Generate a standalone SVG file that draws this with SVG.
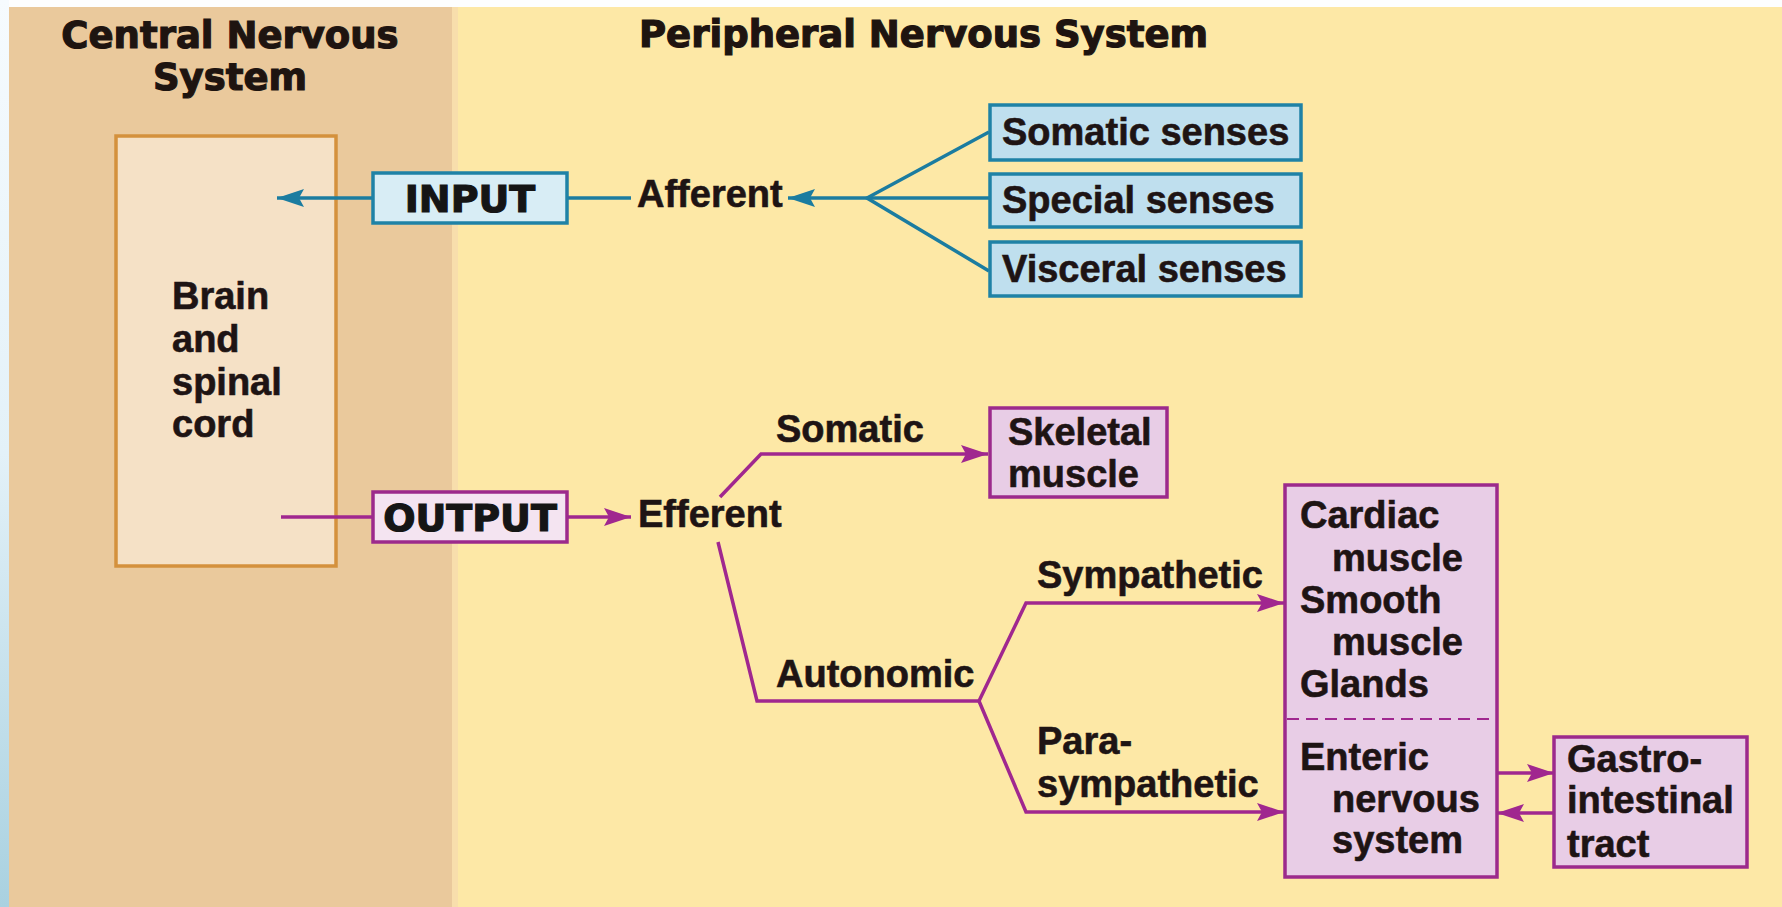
<svg xmlns="http://www.w3.org/2000/svg" width="1782" height="907" viewBox="0 0 1782 907">
<defs>
<linearGradient id="edge" x1="0" y1="0" x2="0" y2="1">
<stop offset="0" stop-color="#f6fbfe"/>
<stop offset="0.5" stop-color="#e3f1f8"/>
<stop offset="1" stop-color="#a9d1e0"/>
</linearGradient>
<marker id="arT" markerUnits="userSpaceOnUse" markerWidth="30" markerHeight="20" refX="27" refY="9" orient="auto">
<path d="M27,9 L0,0 L5,9 L0,18 z" fill="#1b7ca0"/>
</marker>
<marker id="arM" markerUnits="userSpaceOnUse" markerWidth="30" markerHeight="20" refX="27" refY="9" orient="auto">
<path d="M27,9 L0,0 L5,9 L0,18 z" fill="#a0278f"/>
</marker>
</defs>
<style>
.t{font-family:"Liberation Sans",Arial,sans-serif;font-weight:bold;font-size:38px;fill:#1e1414;stroke:#1e1414;stroke-width:0.6}
.h{font-family:"DejaVu Sans","Liberation Sans",sans-serif;font-weight:bold;font-size:37px;fill:#1e1410;stroke:#1e1410;stroke-width:1.2}
.io{font-family:"DejaVu Sans","Liberation Sans",sans-serif;font-weight:bold;font-size:38px;fill:#151515;stroke:#151515;stroke-width:1.2}
.teal{fill:none;stroke:#1b7ca0;stroke-width:3.5}
.mag{fill:none;stroke:#a0278f;stroke-width:3.5}
.sense{fill:#bfdfee;stroke:#1f82a6;stroke-width:3.5}
.pbox{fill:#e8cde6;stroke:#9c2a8c;stroke-width:3.5}
</style>
<!-- background -->
<rect x="0" y="0" width="1782" height="907" fill="#fde8a6"/>
<rect x="9" y="7" width="443" height="900" fill="#eac99c"/>
<rect x="452" y="7" width="6" height="900" fill="#f8deac"/>
<rect x="0" y="0" width="1782" height="7" fill="#fdfeff"/>
<rect x="0" y="0" width="9" height="907" fill="url(#edge)"/>

<g id="titles">
<text class="h" x="230" y="48" text-anchor="middle">Central Nervous</text>
<text class="h" x="230" y="90" text-anchor="middle">System</text>
<text class="h" x="639" y="47">Peripheral Nervous System</text>
</g>

<g id="cns">
<rect x="116" y="136" width="220" height="430" fill="#f5e1c6" stroke="#d4913d" stroke-width="3.5"/>
<text class="t" x="172" y="309">Brain</text>
<text class="t" x="172" y="352">and</text>
<text class="t" x="172" y="395">spinal</text>
<text class="t" x="172" y="437">cord</text>
</g>

<g id="connectors">
<path class="teal" d="M373,198 L277,198" marker-end="url(#arT)"/>
<path class="teal" d="M567,198 L631,198"/>
<path class="teal" d="M989,198 L867,198 L788,198" marker-end="url(#arT)"/>
<path class="teal" d="M989,132 L867,198 L989,271"/>
<path class="mag" d="M281,517 L373,517"/>
<path class="mag" d="M567,517 L631,517" marker-end="url(#arM)"/>
<path class="mag" d="M720,497 L761,454 L988,454" marker-end="url(#arM)"/>
<path class="mag" d="M718,542 L757,701 L979,701"/>
<path class="mag" d="M979,701 L1026,603 L1284,603" marker-end="url(#arM)"/>
<path class="mag" d="M979,701 L1026,812 L1284,812" marker-end="url(#arM)"/>
<path class="mag" d="M1497,773 L1554,773" marker-end="url(#arM)"/>
<path class="mag" d="M1554,813 L1497,813" marker-end="url(#arM)"/>
</g>

<g id="input">
<rect x="373" y="173" width="194" height="50" fill="#d8edf5" stroke="#1f82a6" stroke-width="3.5"/>
<text class="io" x="470" y="212" text-anchor="middle">INPUT</text>
</g>
<g id="output">
<rect x="373" y="492" width="194" height="50" fill="#f4e4f1" stroke="#9c2a8c" stroke-width="3.5"/>
<text class="io" x="470" y="531" text-anchor="middle">OUTPUT</text>
</g>

<g id="afferent"><text class="t" x="637" y="207">Afferent</text></g>
<g id="efferent"><text class="t" x="638" y="527">Efferent</text></g>

<g id="somatic-senses">
<rect class="sense" x="990" y="105" width="311" height="55"/>
<text class="t" x="1002" y="145">Somatic senses</text>
</g>
<g id="special-senses">
<rect class="sense" x="990" y="174" width="311" height="53"/>
<text class="t" x="1002" y="213">Special senses</text>
</g>
<g id="visceral-senses">
<rect class="sense" x="990" y="242" width="311" height="54"/>
<text class="t" x="1002" y="282">Visceral senses</text>
</g>

<g id="labels">
<text class="t" x="776" y="442">Somatic</text>
<text class="t" x="776" y="687">Autonomic</text>
<text class="t" x="1037" y="588">Sympathetic</text>
<text class="t" x="1037" y="754">Para-</text>
<text class="t" x="1037" y="797">sympathetic</text>
</g>

<g id="skeletal-muscle">
<rect class="pbox" x="990" y="408" width="177" height="89"/>
<text class="t" x="1008" y="445">Skeletal</text>
<text class="t" x="1008" y="487">muscle</text>
</g>

<g id="effectors">
<rect class="pbox" x="1285" y="485" width="212" height="392"/>
<line x1="1287" y1="719" x2="1495" y2="719" stroke="#a0278f" stroke-width="2.2" stroke-dasharray="12,7"/>
<text class="t" x="1300" y="528">Cardiac</text>
<text class="t" x="1332" y="571">muscle</text>
<text class="t" x="1300" y="613">Smooth</text>
<text class="t" x="1332" y="655">muscle</text>
<text class="t" x="1300" y="697">Glands</text>
<text class="t" x="1300" y="770">Enteric</text>
<text class="t" x="1332" y="812">nervous</text>
<text class="t" x="1332" y="853">system</text>
</g>

<g id="gi-tract">
<rect class="pbox" x="1554" y="737" width="193" height="130"/>
<text class="t" x="1567" y="772">Gastro-</text>
<text class="t" x="1567" y="813">intestinal</text>
<text class="t" x="1567" y="857">tract</text>
</g>
</svg>
